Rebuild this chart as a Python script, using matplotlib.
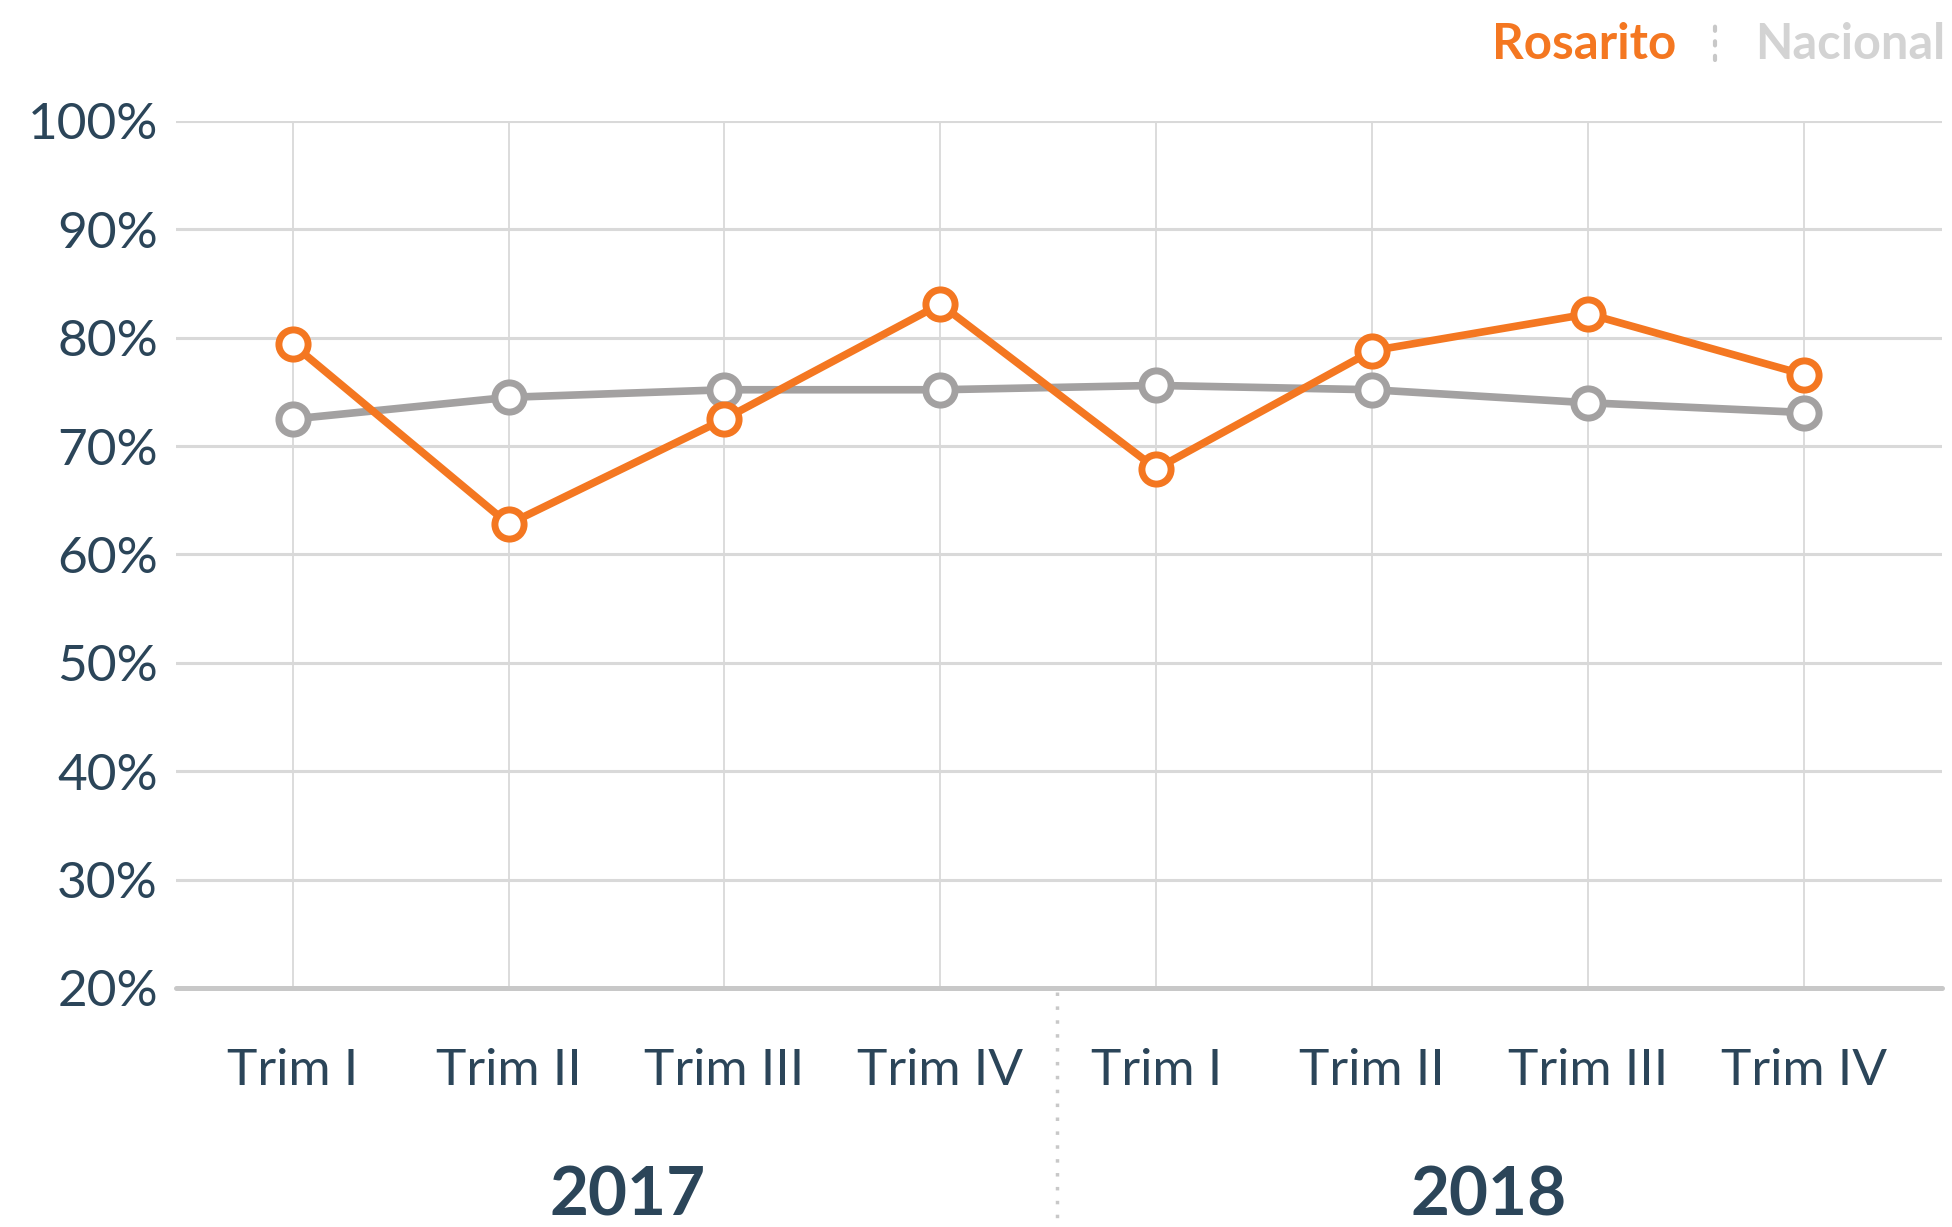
import matplotlib
matplotlib.use("Agg")
import matplotlib.pyplot as plt
from matplotlib.lines import Line2D

plt.rcParams['font.family'] = ['Lato', 'DejaVu Sans']

# data (percent)
trimestres = ["Trim I", "Trim II", "Trim III", "Trim IV",
              "Trim I", "Trim II", "Trim III", "Trim IV"]
anios = ["2017", "2018"]
rosarito = [79.4, 62.8, 72.5, 83.1, 67.9, 78.8, 82.2, 76.6]
nacional = [72.5, 74.5, 75.2, 75.2, 75.6, 75.2, 74.0, 73.1]
yticks = [20, 30, 40, 50, 60, 70, 80, 90, 100]

TEXT = "#2b4559"
ORANGE = "#f47721"
GRAY = "#a3a1a1"

fig = plt.figure(figsize=(19.52, 12.27), dpi=100)
ax = fig.add_axes([0.0902, 0.1948, 0.9048, 0.7066])

x = list(range(len(trimestres)))

ax.plot(x, nacional, color=GRAY, lw=5.5, marker='o', ms=21, mew=5,
        mfc='white', mec=GRAY, zorder=3, clip_on=False)
ax.plot(x, rosarito, color=ORANGE, lw=5.5, marker='o', ms=21, mew=5,
        mfc='white', mec=ORANGE, zorder=4, clip_on=False)

ax.set_xlim(-0.54, 7.64)
ax.set_ylim(20, 100)
ax.set_yticks(yticks)
ax.set_yticklabels([f"{v}%" for v in yticks])
ax.set_xticks(x)
ax.set_xticklabels(trimestres)

ax.tick_params(axis='both', length=0, labelsize=37, labelcolor=TEXT)
ax.tick_params(axis='y', pad=13)
ax.tick_params(axis='x', pad=43)

ax.grid(axis='y', color='#d9d9d9', lw=2.2)
ax.grid(axis='x', color='#dcdcdc', lw=1.4)
ax.set_axisbelow(True)
for s in ['top', 'right', 'left']:
    ax.spines[s].set_visible(False)
ax.spines['bottom'].set_color('#c8c8c8')
ax.spines['bottom'].set_linewidth(3.6)
ax.spines['bottom'].set_capstyle('round')

# year labels and separator
ax.text(1.55, -0.241, anios[0], transform=ax.get_xaxis_transform(),
        ha='center', va='center', fontsize=48.5, fontweight='bold', color=TEXT)
ax.text(5.54, -0.241, anios[1], transform=ax.get_xaxis_transform(),
        ha='center', va='center', fontsize=48.5, fontweight='bold', color=TEXT)
ax.add_line(Line2D([3.54, 3.54], [-0.005, -0.29], transform=ax.get_xaxis_transform(),
                   color='#c8c8c8', lw=2.5, ls=(0, (1, 3)), clip_on=False))

# legend
fig.text(0.8586, 0.964, "Rosarito", ha='right', va='center', fontsize=35.5,
         fontweight='bold', color=ORANGE)
fig.text(0.899, 0.964, "Nacional", ha='left', va='center', fontsize=35,
         fontweight='bold', color='#d3d3d3')
fig.add_artist(Line2D([0.8786, 0.8786], [0.951, 0.982], transform=fig.transFigure,
                      color='#c8c8c8', lw=3, ls=(0, (1, 2.5)), solid_capstyle='round',
                      dash_capstyle='round'))

fig.savefig("out.png", dpi=100, facecolor='white')
